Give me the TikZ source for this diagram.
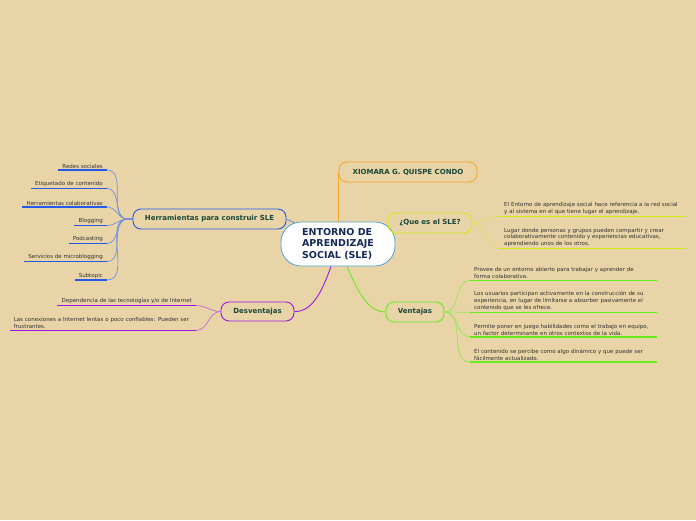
\documentclass[tikz,border=0pt]{standalone}
\usepackage{fontspec}
\setmainfont{DejaVu Sans}
\usetikzlibrary{backgrounds}
\definecolor{bgc}{RGB}{232,212,167}
\definecolor{orangec}{RGB}{247,168,40}
\definecolor{limec}{RGB}{208,236,20}
\definecolor{limel}{RGB}{218,232,90}
\definecolor{greenc}{RGB}{100,236,30}
\definecolor{greenl}{RGB}{150,230,90}
\definecolor{bluec}{RGB}{35,90,235}
\definecolor{bluel}{RGB}{115,145,220}
\definecolor{purplec}{RGB}{160,20,230}
\definecolor{purplel}{RGB}{195,105,220}
\definecolor{centralb}{RGB}{80,160,220}
\definecolor{titlecol}{RGB}{25,70,55}
\definecolor{centralt}{RGB}{20,40,90}
\definecolor{subcol}{RGB}{50,50,50}
\begin{document}
\begin{tikzpicture}[x=1pt,y=-1pt,
  central/.style={draw=centralb, fill=white, line width=0.8pt, rounded corners=20pt,
    minimum width=114pt, minimum height=44pt, align=left, text=centralt,
    font=\bfseries\fontsize{9.5}{11.5}\selectfont},
  topic/.style={draw, line width=0.9pt, rounded corners=8pt, minimum height=20pt,
    inner sep=0pt, text=titlecol, font=\bfseries\fontsize{7}{8}\selectfont},
  sub/.style={inner xsep=4pt, inner ysep=1.6pt, text=subcol, align=left,
    font=\fontsize{5.5}{6.7}\selectfont},
  uline/.style={line width=1.5pt},
  conn/.style={line width=0.7pt},
  link/.style={line width=0.9pt}]
\useasboundingbox (0,0) rectangle (696,520);
\begin{scope}[on background layer]
\fill[bgc] (0,0) rectangle (696,520);
\end{scope}

% main nodes
\node[central] (c) at (338,244) {ENTORNO DE\\APRENDIZAJE\\SOCIAL (SLE)};
\node[topic, draw=orangec, minimum width=138pt] (x) at (408,172) {XIOMARA G. QUISPE CONDO};
\node[topic, draw=limec, minimum width=84pt] (q) at (430,223) {¿Que es el SLE?};
\node[topic, draw=greenc, minimum width=58pt] (v) at (415,312) {Ventajas};
\node[topic, draw=bluec, minimum width=153pt] (h) at (209.5,219) {Herramientas para construir SLE};
\node[topic, draw=purplec, minimum width=73pt, minimum height=19pt] (d) at (257.5,311.5) {Desventajas};

% Herramientas children
\node[sub, anchor=south east] (h1) at (107,170) {Redes sociales};
\node[sub, anchor=south east] (h2) at (107,188.5) {Etiquetado de contenido};
\node[sub, anchor=south east] (h3) at (107,207) {Herramientas colaborativas};
\node[sub, anchor=south east] (h4) at (107,225.5) {Blogging};
\node[sub, anchor=south east] (h5) at (107,243.5) {Podcasting};
\node[sub, anchor=south east] (h6) at (107,261.5) {Servicios de microblogging};
\node[sub, anchor=south east] (h7) at (107,280) {Subtopic};
\foreach \n in {h1,h2,h3,h4,h5,h6,h7}
  \draw[uline, bluec] (\n.south west) -- (\n.south east);

% Desventajas children
\node[sub, anchor=south east] (d1) at (196,305.5) {Dependencia de las tecnologías y/o de Internet};
\node[sub, anchor=south east, text width=178pt] (d2) at (196,330.5) {Las conexiones a Internet lentas o poco confiables: Pueden ser\\frustrantes.};
\foreach \n in {d1,d2}
  \draw[uline, purplec] (\n.south west) -- (\n.south east);

% Que es children
\node[sub, anchor=south west, text width=178pt] (q1) at (500,216.5) {El Entorno de aprendizaje social hace referencia a la red social\\y al sistema en el que tiene lugar el aprendizaje.};
\node[sub, anchor=south west, text width=178pt] (q2) at (500,248.5) {Lugar donde personas y grupos pueden compartir y crear\\colaborativamente contenido y experiencias educativas,\\aprendiendo unos de los otros.};
\foreach \n in {q1,q2}
  \draw[uline, limec] (\n.south west) -- (\n.south east);

% Ventajas children
\node[sub, anchor=south west, text width=179pt] (v1) at (470,280.5) {Provee de un entorno abierto para trabajar y aprender de\\forma colaborativa.};
\node[sub, anchor=south west, text width=179pt] (v2) at (470,312.3) {Los usuarios participan activamente en la construcción de su\\experiencia, en lugar de limitarse a absorber pasivamente el\\contenido que se les ofrece.};
\node[sub, anchor=south west, text width=179pt] (v3) at (470,337) {Permite poner en juego habilidades como el trabajo en equipo,\\un factor determinante en otros contextos de la vida.};
\node[sub, anchor=south west, text width=179pt] (v4) at (470,362) {El contenido se percibe como algo dinámico y que puede ser\\fácilmente actualizado.};
\foreach \n in {v1,v2,v3,v4}
  \draw[uline, greenc] (\n.south west) -- (\n.south east);

% connectors
\begin{scope}[on background layer]
\draw[link, orangec] (x.west |- c.north) -- (x.west);
\draw[link, limel] (c.center) -- (q.west);
\draw[link, bluel] (h.east) -- (c.center);
\draw[link, greenc] ([xshift=9pt]c.south) .. controls (358,292) and (368,312) .. (v.west);
\draw[link, purplec] ([xshift=-7pt]c.south) .. controls (322,292) and (312,312) .. (d.east);
\foreach \n in {h1,h2,h3,h4,h5,h6,h7}
  \draw[conn, bluel] (h.west) -- ++(-5,0) to[out=180,in=0] (\n.south east);
\foreach \n in {d1,d2}
  \draw[conn, purplel] (d.west) to[out=180,in=0] (\n.south east);
\foreach \n in {q1,q2}
  \draw[conn, limel] (q.east) to[out=0,in=180] (\n.south west);
\foreach \n in {v1,v2,v3,v4}
  \draw[conn, greenl] (v.east) to[out=0,in=180] (\n.south west);
\end{scope}
\end{tikzpicture}
\end{document}
